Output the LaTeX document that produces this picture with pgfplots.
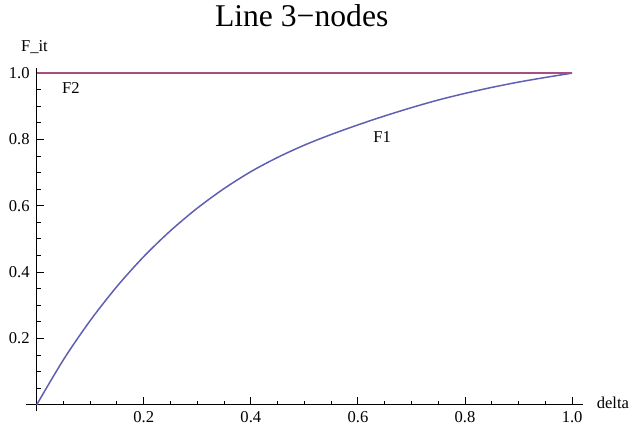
\documentclass[border=0pt]{standalone}
\usepackage{fontspec}
\setmainfont{Liberation Serif}
\usepackage{pgfplots}
\pgfplotsset{compat=1.18}
\definecolor{FoneBlue}{RGB}{96,96,178}
\definecolor{FtwoRed}{RGB}{168,78,128}

\begin{document}
\begin{tikzpicture}
\begin{axis}[
  scale only axis, width=279pt, height=172pt,
  xmin=-0.02, xmax=1.02, ymin=-0.02, ymax=1.015,
  axis lines=middle,
  axis line style={-, line width=0.5pt, black},
  xtick={0.2,0.4,0.6,0.8,1.0}, ytick={0.2,0.4,0.6,0.8,1.0},
  minor xtick={0.05,0.1,0.15,0.25,0.3,0.35,0.45,0.5,0.55,0.65,0.7,0.75,0.85,0.9,0.95},
  minor ytick={0.05,0.1,0.15,0.25,0.3,0.35,0.45,0.5,0.55,0.65,0.7,0.75,0.85,0.9,0.95},
  tick align=inside,
  major tick length=3.7pt, minor tick length=2pt,
  tick style={black, line width=0.5pt},
  ticklabel style={font=\fontsize{8.3}{10}\selectfont},
  /pgf/number format/assume math mode=true,
  /pgf/number format/.cd, fixed, fixed zerofill, precision=1, /pgfplots/.cd,
  clip=false,
]
% F1
\addplot[smooth, color=FoneBlue, line width=0.75pt] coordinates {
  (0,0) (0.05,0.136) (0.1,0.254) (0.15,0.357) (0.2,0.447) (0.25,0.525)
  (0.3,0.593) (0.35,0.652) (0.4,0.703) (0.45,0.746) (0.5,0.783)
  (0.55,0.815) (0.6,0.844) (0.65,0.871) (0.7,0.896) (0.75,0.919)
  (0.8,0.939) (0.85,0.957) (0.9,0.973) (0.95,0.987) (1.0,1.0)};
% F2
\addplot[color=FtwoRed, line width=0.75pt] coordinates {(0,1) (1,1)};

\node[anchor=base, font=\fontsize{8.3}{10}\selectfont] at (axis cs:0.0639,0.938) {F2};
\node[anchor=base, font=\fontsize{8.3}{10}\selectfont] at (axis cs:0.645,0.792) {F1};
\node[anchor=base west, inner sep=0pt, font=\fontsize{8.3}{10}\selectfont, xshift=6.8pt, yshift=-1.65pt] at (axis cs:1.02,0) {delta};
\node[anchor=base, inner sep=0pt, font=\fontsize{8.3}{10}\selectfont, xshift=-1.1pt, yshift=8.15pt] at (axis cs:0,1.015) {F\_it};
\node[anchor=base, inner sep=0pt, font=\fontsize{15.85}{18}\selectfont, xshift=-1.35pt, yshift=20.8pt] at (rel axis cs:0.5,1) {Line 3−nodes};
\end{axis}
\path (current axis.south west) ++(-13pt,-10.85pt);
\path (current axis.north east) ++(22.8pt,34.15pt);
\end{tikzpicture}
\end{document}
